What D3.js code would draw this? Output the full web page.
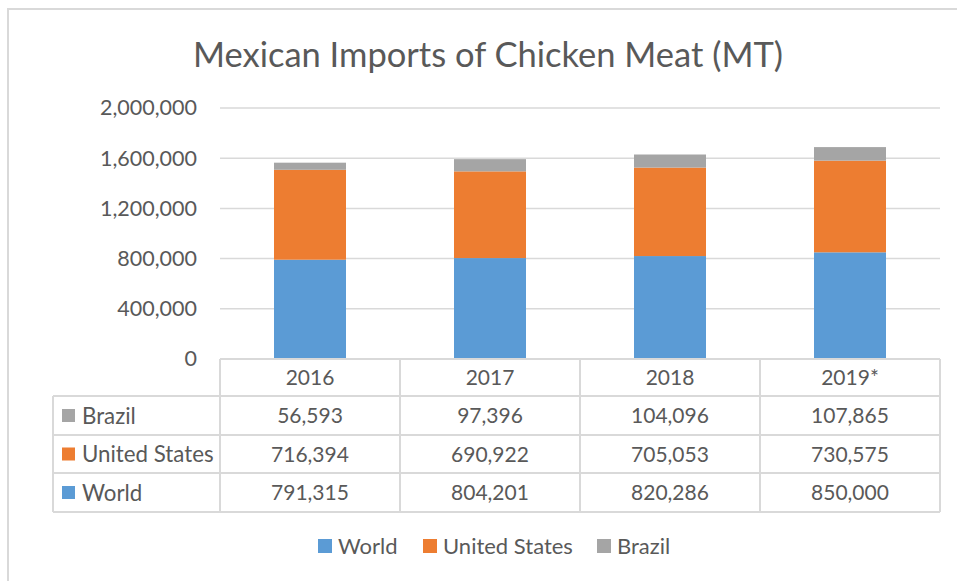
<!DOCTYPE html>
<html>
<head>
<meta charset="utf-8">
<script src="https://cdn.jsdelivr.net/npm/d3@7"></script>
<style>
  body { margin: 0; background: #fff; }
  text { font-family: Lato, "Open Sans", sans-serif; fill: #595959; }
</style>
</head>
<body>
<div id="chart"></div>
<script>
const width = 957;
const height = 581;

// Data
const years = ["2016", "2017", "2018", "2019*"];
const world = [791315, 804201, 820286, 850000];
const unitedStates = [716394, 690922, 705053, 730575];
const brazil = [56593, 97396, 104096, 107865];
const yTicks = [0, 400000, 800000, 1200000, 1600000, 2000000];

const seriesNames = ["World", "United States", "Brazil"];
const seriesValues = [world, unitedStates, brazil];
const colors = ["#5b9bd5", "#ed7d31", "#a5a5a5"];
const gridColor = "#d9d9d9";

const svg = d3.select("#chart")
    .append("svg")
    .attr("width", width)
    .attr("height", height);

// outer chart frame (runs off the right and bottom of the picture)
svg.append("rect")
    .attr("x", 8).attr("y", 9)
    .attr("width", 1000).attr("height", 700)
    .attr("fill", "none")
    .attr("stroke", gridColor)
    .attr("stroke-width", 2);

// Title
svg.append("text")
    .attr("x", 488).attr("y", 67)
    .attr("text-anchor", "middle")
    .style("font-size", "34.5px")
    .text("Mexican Imports of Chicken Meat (MT)");

// Scales
const x = d3.scaleBand()
    .domain(years)
    .range([220, 940])
    .paddingInner(0.6)
    .paddingOuter(0.3);

const y = d3.scaleLinear()
    .domain([0, 2000000])
    .range([359, 108]);

// Gridlines
svg.append("g")
    .selectAll("line")
    .data(yTicks.filter(d => d > 0))
    .join("line")
    .attr("x1", 220).attr("x2", 940)
    .attr("y1", d => y(d)).attr("y2", d => y(d))
    .attr("stroke", gridColor)
    .attr("stroke-width", 1.5);

// Y axis labels
const yAxis = svg.append("g")
    .attr("transform", "translate(220,0)")
    .call(d3.axisLeft(y).tickValues(yTicks).tickFormat(d3.format(",")).tickSize(0).tickPadding(23));
yAxis.select(".domain").remove();
yAxis.selectAll("text")
    .style("font-size", "21.5px")
    .attr("fill", "#595959");

// Stacked bars
const table = years.map((yr, i) => {
    const row = {year: yr};
    seriesNames.forEach((s, j) => row[s] = seriesValues[j][i]);
    return row;
});
const stack = d3.stack().keys(seriesNames)(table);

svg.append("g")
    .selectAll("g")
    .data(stack)
    .join("g")
    .attr("fill", (d, i) => colors[i])
    .selectAll("rect")
    .data(d => d)
    .join("rect")
    .attr("x", d => x(d.data.year))
    .attr("y", d => y(d[1]))
    .attr("width", x.bandwidth())
    .attr("height", d => y(d[0]) - y(d[1]));

// Data table under the plot
const tableLeft = 53;
const colStep = x.step();
const rowTops = [359, 396, 435, 473, 512];
const tableRows = [2, 1, 0]; // Brazil, United States, World

const tg = svg.append("g");

// horizontal lines
tg.append("line")
    .attr("x1", 220).attr("x2", 940)
    .attr("y1", rowTops[0]).attr("y2", rowTops[0]);
rowTops.slice(1).forEach(ry => {
    tg.append("line")
        .attr("x1", tableLeft).attr("x2", 940)
        .attr("y1", ry).attr("y2", ry);
});
// vertical lines
tg.append("line")
    .attr("x1", tableLeft).attr("x2", tableLeft)
    .attr("y1", rowTops[1]).attr("y2", rowTops[4]);
d3.range(years.length + 1).forEach(i => {
    const lx = 220 + i * colStep;
    tg.append("line")
        .attr("x1", lx).attr("x2", lx)
        .attr("y1", rowTops[0]).attr("y2", rowTops[4]);
});
tg.selectAll("line")
    .attr("stroke", gridColor)
    .attr("stroke-width", 2);

// header row
tg.selectAll(".hdr")
    .data(years)
    .join("text")
    .attr("class", "hdr")
    .attr("x", d => x(d) + x.bandwidth() / 2)
    .attr("y", (rowTops[0] + rowTops[1]) / 2)
    .attr("dy", "0.36em")
    .attr("text-anchor", "middle")
    .style("font-size", "21px")
    .text(d => d);

// body rows
tableRows.forEach((si, r) => {
    const cy = (rowTops[r + 1] + rowTops[r + 2]) / 2;
    tg.append("rect")
        .attr("x", 62).attr("y", cy - 6.5)
        .attr("width", 13).attr("height", 13)
        .attr("fill", colors[si]);
    tg.append("text")
        .attr("x", 82).attr("y", cy)
        .attr("dy", "0.36em")
        .style("font-size", "22.3px")
        .text(seriesNames[si]);
    tg.selectAll(".v" + si)
        .data(seriesValues[si])
        .join("text")
        .attr("x", (d, i) => x(years[i]) + x.bandwidth() / 2)
        .attr("y", cy)
        .attr("dy", "0.36em")
        .attr("text-anchor", "middle")
        .style("font-size", "21px")
        .text(d => d3.format(",")(d));
});

// Legend
const legendX = [318, 423, 597];
const legend = svg.append("g")
    .selectAll("g")
    .data(seriesNames)
    .join("g")
    .attr("transform", (d, i) => `translate(${legendX[i]},546)`);
legend.append("rect")
    .attr("x", 0).attr("y", -7)
    .attr("width", 14).attr("height", 14)
    .attr("fill", (d, i) => colors[i]);
legend.append("text")
    .attr("x", 20).attr("y", 0)
    .attr("dy", "0.36em")
    .style("font-size", "22px")
    .text(d => d);
</script>
</body>
</html>
